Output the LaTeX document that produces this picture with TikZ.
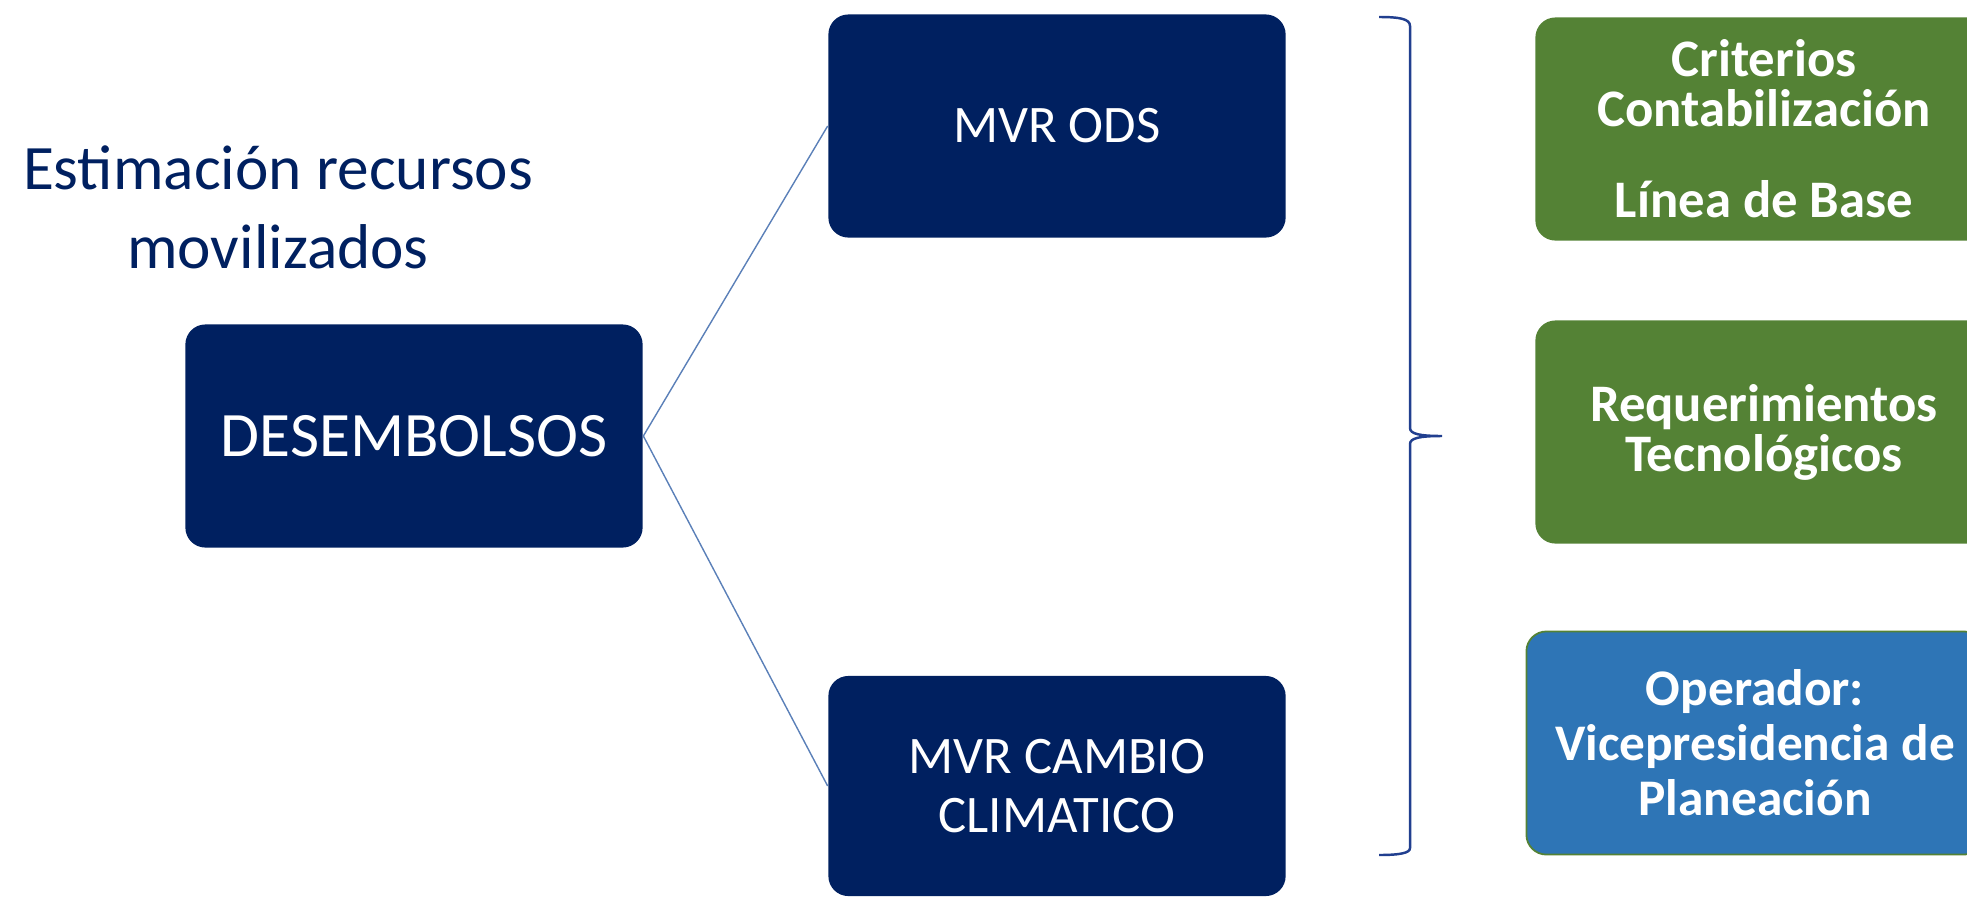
\documentclass[tikz,border=0pt]{standalone}
\usepackage{fontspec}
\setmainfont{Carlito}
\definecolor{navy}{HTML}{002060}
\definecolor{verde}{HTML}{548235}
\definecolor{azul}{HTML}{2E75B6}
\definecolor{linea}{HTML}{5B80B8}
\definecolor{llave}{HTML}{213F8F}
\begin{document}
\begin{tikzpicture}[x=0.01cm,y=-0.01cm, % 1 unit = 1 px, y going down
    caja/.style={rounded corners=0.2cm, minimum width=4.57cm, minimum height=2.23cm,
                 align=center, text=white, inner sep=0pt},
    oscura/.style={caja, fill=navy, font=\fontsize{15pt}{17pt}\selectfont},
    clara/.style={caja, fill=#1, font=\bfseries\fontsize{15pt}{14.2pt}\selectfont},
    conector/.style={draw=linea, line width=0.4pt}]
\def\bx{1764} % x of the right column
\clip (0,0) rectangle (1967,897); %page size
% title
\node[text=navy, align=center, font=\fontsize{18pt}{22.5pt}\selectfont] (tit) at (278,207)
    {Estimación recursos\\movilizados};
% left and middle boxes
\node[oscura, font=\fontsize{18pt}{22pt}\selectfont] (des) at (414,436) {DESEMBOLSOS};
\node[oscura] (ods) at (1057,126) {MVR ODS};
\node[oscura, minimum height=2.2cm] (cc) at (1057,786) {MVR CAMBIO\\CLIMATICO};
% right column
\node[clara=verde] (crit) at (\bx,129) {Criterios\\Contabilización\\[11.7pt]Línea de Base};
\node[clara=verde] (req) at (\bx,432) {Requerimientos\\Tecnológicos};
\node[clara=azul, draw=verde, line width=0.5pt, font=\bfseries\fontsize{14.6pt}{15.6pt}\selectfont]
    (oper) at (1755,743) {Operador:\\Vicepresidencia de\\Planeación};
% lines
\draw[conector] (des.east) -- (ods.west);
\draw[conector] (des.east) -- (cc.west);
% bracket
\draw[llave, line width=0.7pt] (1379,17) .. controls (1400,17) and (1410,19) .. (1410,26)
    -- (1410,428) .. controls (1410,434) and (1420,436) .. (1442,436)
    .. controls (1420,436) and (1410,438) .. (1410,444)
    -- (1410,848) .. controls (1410,853) and (1400,855) .. (1379,855);
\end{tikzpicture}
\end{document}
